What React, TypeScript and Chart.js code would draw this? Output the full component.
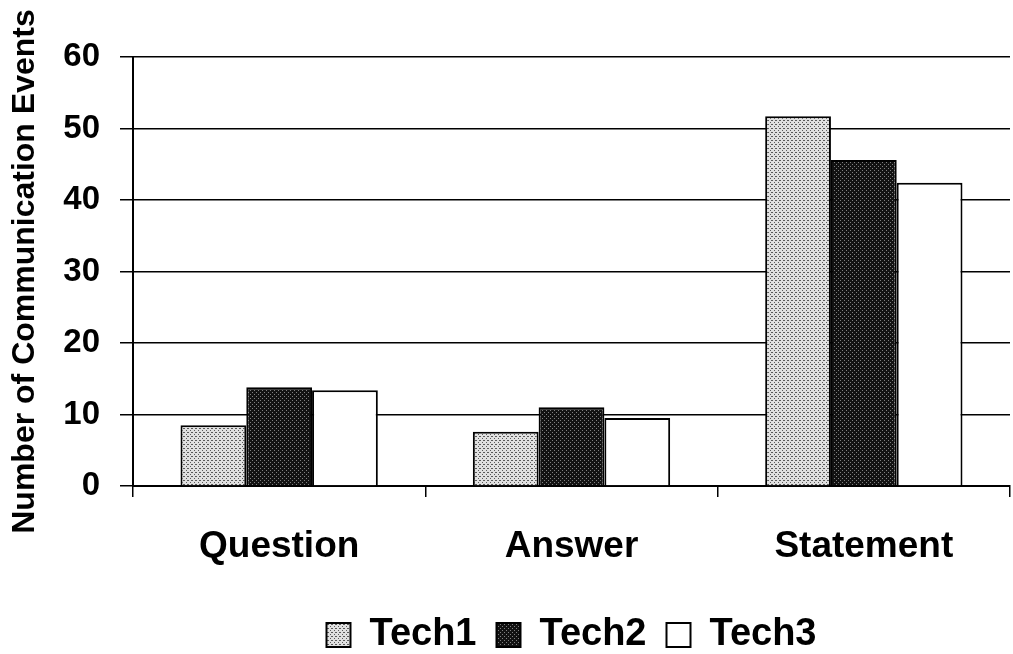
import React, { useEffect, useRef } from "react";
import { Chart, registerables } from "chart.js";

Chart.register(...registerables);

const categories = ["Question", "Answer", "Statement"];
const seriesNames = ["Tech1", "Tech2", "Tech3"];
const tech1 = [8.5, 7.6, 51.7];
const tech2 = [13.8, 11.0, 45.6];
const tech3 = [13.4, 9.5, 42.4];
const yTicks = [0, 10, 20, 30, 40, 50, 60];
const yTitle = "Number of Communication Events";

function makePattern(base: string, dot: string, dots: number[][]): CanvasPattern | string {
  const c = document.createElement("canvas");
  c.width = 4;
  c.height = 4;
  const g = c.getContext("2d");
  if (!g) return base;
  g.fillStyle = base;
  g.fillRect(0, 0, 4, 4);
  g.fillStyle = dot;
  dots.forEach(([x, y]) => g.fillRect(x, y, 1, 1));
  const p = g.createPattern(c, "repeat");
  return p || base;
}

export default function App() {
  const ref = useRef<HTMLCanvasElement | null>(null);
  useEffect(() => {
    document.body.style.margin = "0";
    const canvas = ref.current;
    if (!canvas) return;
    const p1 = makePattern("#e0e0e0", "#5a5a5a", [[0, 0], [2, 2], [3, 0]]);
    const p2 = makePattern("#121212", "#808080", [[0, 0], [2, 2]]);
    const font = "'Liberation Sans', Arial, Helvetica, sans-serif";
    const chart = new Chart(canvas, {
      type: "bar",
      data: {
        labels: categories,
        datasets: [
          { label: seriesNames[0], data: tech1, backgroundColor: p1 as any, borderColor: "#000", borderWidth: 2 },
          { label: seriesNames[1], data: tech2, backgroundColor: p2 as any, borderColor: "#000", borderWidth: 2 },
          { label: seriesNames[2], data: tech3, backgroundColor: "#ffffff", borderColor: "#000", borderWidth: 2 },
        ],
      },
      options: {
        responsive: false,
        animation: false,
        datasets: { bar: { barPercentage: 1, categoryPercentage: 0.675 } },
        layout: { padding: { left: 0, right: 3, top: 57, bottom: -10 } },
        plugins: {
          tooltip: { enabled: false },
          legend: {
            position: "bottom",
            fullSize: false,
            labels: {
              color: "#000",
              boxWidth: 24,
              boxHeight: 24,
              padding: 20,
              font: { family: font, size: 38, weight: "bold" },
            },
          },
        },
        scales: {
          x: {
            afterFit: (s: any) => {
              s.height = 110;
            },
            grid: { display: true, drawOnChartArea: false, drawTicks: true, tickLength: 11, color: "#000", lineWidth: 1.5, offset: true },
            border: { display: true, color: "#000", width: 2 },
            ticks: { color: "#000", padding: 28, font: { family: font, size: 37, weight: "bold" } },
          },
          y: {
            min: 0,
            max: 60,
            afterBuildTicks: (s: any) => {
              s.ticks = yTicks.map((v) => ({ value: v }));
            },
            afterFit: (s: any) => {
              s.width = 133;
            },
            grid: { color: "#000", lineWidth: 1.5, tickLength: 13 },
            border: { display: true, color: "#000", width: 2 },
            ticks: { color: "#000", padding: 20, font: { family: font, size: 33, weight: "bold" } },
            title: {
              display: true,
              text: yTitle,
              color: "#000",
              padding: { top: 6, bottom: 0 },
              font: { family: font, size: 32, weight: "bold" },
            },
          },
        },
      },
    });
    return () => chart.destroy();
  }, []);
  return (
    <div style={{ position: "absolute", left: 0, top: 0, width: 1013, height: 654, background: "#fff" }}>
      <canvas ref={ref} width={1013} height={654} />
    </div>
  );
}
